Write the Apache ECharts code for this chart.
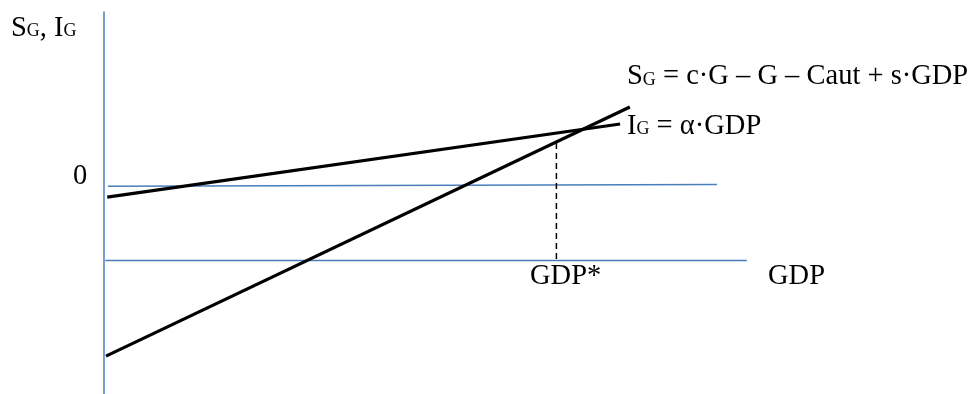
<!DOCTYPE html>
<html>
<head>
<meta charset="utf-8">
<title>SG, IG</title>
<script src="https://cdn.jsdelivr.net/npm/echarts@6/dist/echarts.min.js"></script>
<style>
html, body { margin: 0; padding: 0; background: #fff; }
#chart { width: 970px; height: 394px; }
</style>
</head>
<body>
<div id="chart"></div>
<script>
// values in abstract units: GDP 0..100, SG / IG from -56 to 47
const igLine = [[0.5, -2.9], [79.4, 16.8]]
const sgLine = [[0.3, -45.8], [80.9, 21.4]]
const zeroLine = [[0.6, 0], [94.3, 0.5]]
const gdpLine = [[0.2, -20], [98.9, -20]]
const gdpStarX = 69.6
const gdpStarTop = 11.7
const gdpStarLine = [[gdpStarX, gdpStarTop], [gdpStarX, -20]]

const font = '"Liberation Serif", "Times New Roman", serif'
const blue = '#4a7ebb'

// main text + subscript
const rich = {
  m: { fontFamily: font, fontSize: 28.5, lineHeight: 34, color: '#000' },
  s: { fontFamily: font, fontSize: 18, lineHeight: 28, padding: [6, 0, 0, 0], color: '#000' }
}

function label (x, y, text) {
  return {
    type: 'text',
    x: x,
    y: y,
    silent: true,
    style: { text: text, rich: rich, align: 'left', verticalAlign: 'top' }
  }
}

function seg (data, color, width, type) {
  return {
    type: 'line',
    data: data,
    symbol: 'none',
    silent: true,
    lineStyle: { color: color, width: width, type: type || 'solid', cap: 'butt' }
  }
}

const myChart = echarts.init(document.getElementById('chart'))
myChart.setOption({
  animation: false,
  grid: { left: 104, top: 12, width: 650, height: 382 },
  xAxis: {
    type: 'value', min: 0, max: 100,
    axisLine: { show: false }, axisTick: { show: false },
    axisLabel: { show: false }, splitLine: { show: false }
  },
  yAxis: {
    type: 'value', min: -56, max: 47,
    axisLine: { show: true, lineStyle: { color: blue, width: 1.5 } },
    axisTick: { show: false }, axisLabel: { show: false }, splitLine: { show: false }
  },
  series: [
    seg(zeroLine, blue, 1.5),
    seg(gdpLine, blue, 1.5),
    seg(gdpStarLine, '#000', 1.5, [6, 4]),
    seg(igLine, '#000', 3.2),
    seg(sgLine, '#000', 3.2)
  ],
  graphic: [
    label(11, 11.5, '{m|S}{s|G}{m|, I}{s|G}'),
    label(73, 160, '{m|0}'),
    label(627, 60, '{m|S}{s|G}{m| = c·G – G – Caut + s·GDP}'),
    label(627, 109.5, '{m|I}{s|G}{m| = α·GDP}'),
    label(530, 259.5, '{m|GDP*}'),
    label(768, 259.5, '{m|GDP}')
  ]
})
</script>
</body>
</html>
